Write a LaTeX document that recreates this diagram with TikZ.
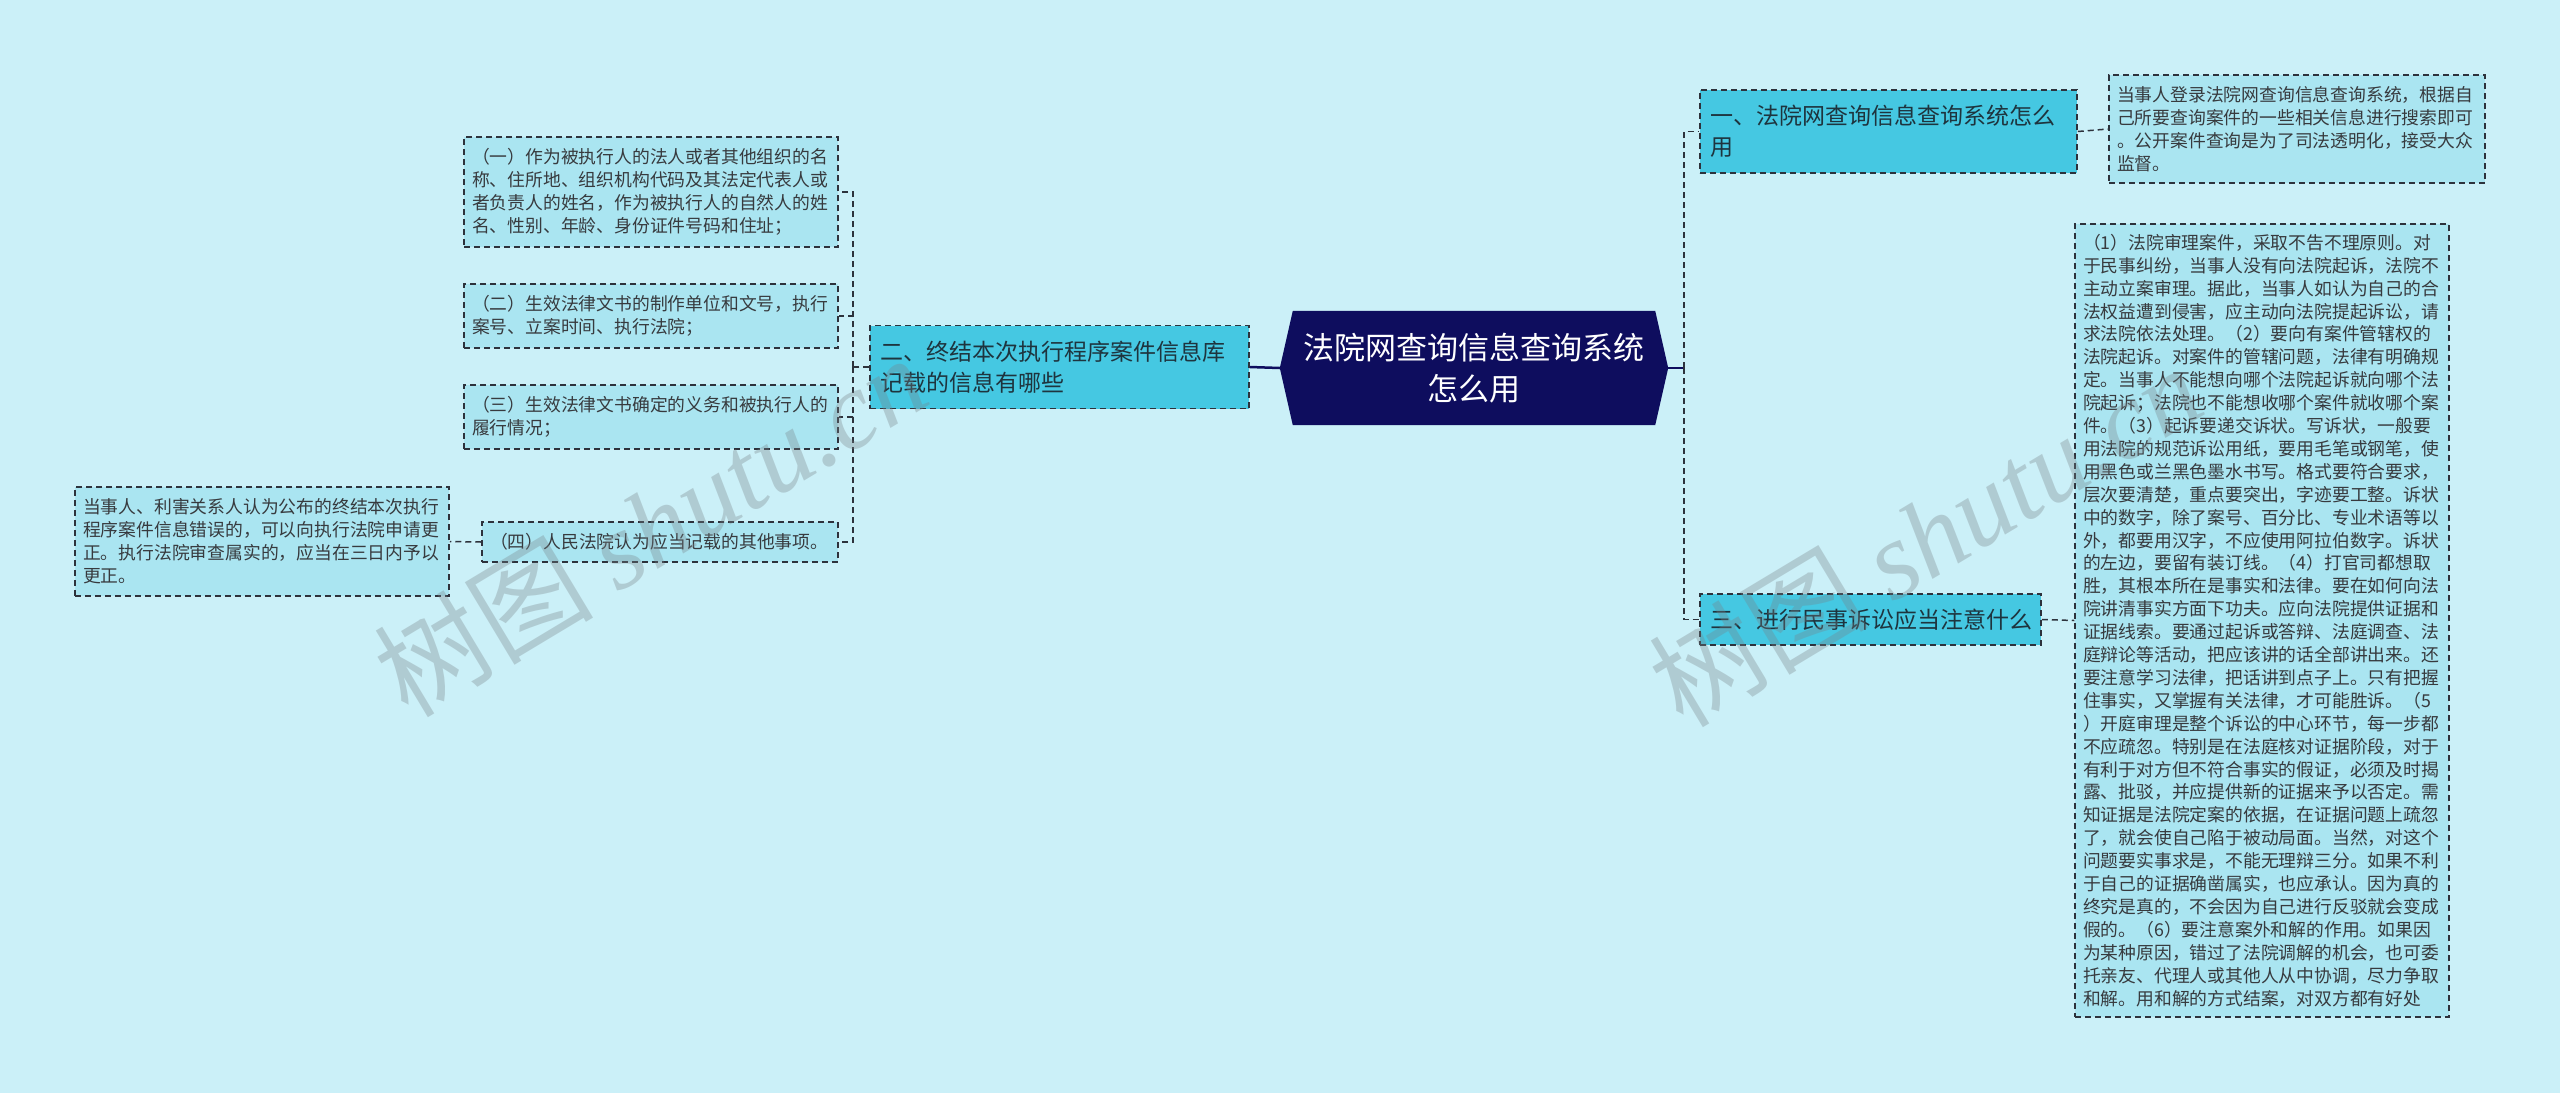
\documentclass[tikz,border=0pt]{standalone}
\usepackage{fontspec}
\setmainfont{Noto Sans CJK SC}
\newfontfamily\wmlatin{Liberation Serif}
\pgfdeclarelayer{bg}
\pgfsetlayers{bg,main}
\definecolor{bgc}{RGB}{203,240,248}
\definecolor{rootc}{RGB}{14,13,94}
\definecolor{brc}{RGB}{69,200,226}
\definecolor{leafc}{RGB}{170,229,241}
\definecolor{bordc}{RGB}{45,50,60}
\definecolor{brtext}{RGB}{30,52,62}
\definecolor{leaftext}{RGB}{55,58,62}
\definecolor{wmc}{RGB}{120,130,135}
\tikzset{
  boxline/.style={draw=bordc, dash pattern=on 6pt off 4pt, line width=1.5pt},
  leafbox/.style={boxline, fill=leafc, text=leaftext, font=\fontsize{17.8pt}{22.9pt}\selectfont, align=left, inner xsep=8pt, inner ysep=0pt, text width=358pt},
  branchbox/.style={boxline, fill=brc, text=brtext, font=\fontsize{23pt}{31pt}\selectfont, align=left, inner xsep=10pt, inner ysep=0pt},
  roottext/.style={text=white, font=\fontsize{31pt}{41pt}\selectfont, align=center, inner sep=0pt},
  conn/.style={draw=bordc, dash pattern=on 6pt off 4pt, line width=1.5pt},
  rootconn/.style={draw=rootc, line width=2.5pt},
  wm/.style={text=wmc, opacity=0.33, font=\fontsize{110pt}{110pt}\selectfont, inner sep=0pt}
}
\begin{document}
\begin{tikzpicture}[x=1pt,y=-1pt]
\begin{pgfonlayer}{bg}
\fill[bgc] (0,0) rectangle (2560,1093);
\end{pgfonlayer}
\useasboundingbox (0,0) rectangle (2560,1093);

% root
\node[roottext, minimum width=388pt, minimum height=114pt] (root) at (1474,368) {法院网查询信息查询系统\\怎么用};
\begin{pgfonlayer}{bg}
\fill[rootc] ([xshift=13pt]root.north west) -- ([xshift=-13pt]root.north east) -- (root.east) -- ([xshift=-13pt]root.south east) -- ([xshift=13pt]root.south west) -- (root.west) -- cycle;
\end{pgfonlayer}

% branches
\node[branchbox, text width=357pt, minimum height=83pt] (b1) at (1888.5,131.5) {一、法院网查询信息查询系统怎么\\用};
\node[branchbox, text width=359pt, minimum height=83pt] (b2) at (1059.5,367) {二、终结本次执行程序案件信息库\\记载的信息有哪些};
\node[branchbox, text width=321pt, minimum height=51pt] (b3) at (1870.5,619.5) {三、进行民事诉讼应当注意什么};

% left leaves
\node[leafbox, minimum height=110pt] (l1) at (651,192) {（一）作为被执行人的法人或者其他组织的名\\称、住所地、组织机构代码及其法定代表人或\\者负责人的姓名，作为被执行人的自然人的姓\\名、性别、年龄、身份证件号码和住址；};
\node[leafbox, minimum height=64pt] (l2) at (651,316) {（二）生效法律文书的制作单位和文号，执行\\案号、立案时间、执行法院；};
\node[leafbox, minimum height=64pt] (l3) at (651,417) {（三）生效法律文书确定的义务和被执行人的\\履行情况；};
\node[leafbox, text width=340pt, minimum height=40pt] (l4) at (660,542) {（四）人民法院认为应当记载的其他事项。};
\node[leafbox, minimum height=109pt] (s4) at (262,541.5) {当事人、利害关系人认为公布的终结本次执行\\程序案件信息错误的，可以向执行法院申请更\\正。执行法院审查属实的，应当在三日内予以\\更正。};

% right leaves
\node[leafbox, text width=360pt, minimum height=108pt] (r1) at (2297,129) {当事人登录法院网查询信息查询系统，根据自\\己所要查询案件的一些相关信息进行搜索即可\\。公开案件查询是为了司法透明化，接受大众\\监督。};
\node[leafbox, minimum height=793pt] (r3) at (2262,620.5) {（1）法院审理案件，采取不告不理原则。对\\于民事纠纷，当事人没有向法院起诉，法院不\\主动立案审理。据此，当事人如认为自己的合\\法权益遭到侵害，应主动向法院提起诉讼，请\\求法院依法处理。（2）要向有案件管辖权的\\法院起诉。对案件的管辖问题，法律有明确规\\定。当事人不能想向哪个法院起诉就向哪个法\\院起诉；法院也不能想收哪个案件就收哪个案\\件。（3）起诉要递交诉状。写诉状，一般要\\用法院的规范诉讼用纸，要用毛笔或钢笔，使\\用黑色或兰黑色墨水书写。格式要符合要求，\\层次要清楚，重点要突出，字迹要工整。诉状\\中的数字，除了案号、百分比、专业术语等以\\外，都要用汉字，不应使用阿拉伯数字。诉状\\的左边，要留有装订线。（4）打官司都想取\\胜，其根本所在是事实和法律。要在如何向法\\院讲清事实方面下功夫。应向法院提供证据和\\证据线索。要通过起诉或答辩、法庭调查、法\\庭辩论等活动，把应该讲的话全部讲出来。还\\要注意学习法律，把话讲到点子上。只有把握\\住事实，又掌握有关法律，才可能胜诉。（5\\）开庭审理是整个诉讼的中心环节，每一步都\\不应疏忽。特别是在法庭核对证据阶段，对于\\有利于对方但不符合事实的假证，必须及时揭\\露、批驳，并应提供新的证据来予以否定。需\\知证据是法院定案的依据，在证据问题上疏忽\\了，就会使自己陷于被动局面。当然，对这个\\问题要实事求是，不能无理辩三分。如果不利\\于自己的证据确凿属实，也应承认。因为真的\\终究是真的，不会因为自己进行反驳就会变成\\假的。（6）要注意案外和解的作用。如果因\\为某种原因，错过了法院调解的机会，也可委\\托亲友、代理人或其他人从中协调，尽力争取\\和解。用和解的方式结案，对双方都有好处};

% connectors
\coordinate (lj) at (853,367);
\coordinate (rj) at (1684,368);
\draw[rootconn] (root.west) -- (b2.east);
\draw[rootconn] (root.east) -- (rj);
\draw[conn] (rj) |- (b1.west);
\draw[conn] (rj) |- (b3.west);
\draw[conn] (b2.west) -- (lj);
\draw[conn] (lj) |- (l1.east);
\draw[conn] (lj) |- (l2.east);
\draw[conn] (lj) |- (l3.east);
\draw[conn] (lj) |- (l4.east);
\draw[conn] (l4.west) -- (s4.east);
\draw[conn] (b1.east) -- (r1.west);
\draw[conn] (b3.east) -- (r3.west);

% watermarks
\node[wm, rotate=31] (wm1) at (650,525) {树图 {\wmlatin\itshape shutu.cn}};
\node[wm, rotate=31] (wm2) at (1925,535) {树图 {\wmlatin\itshape shutu.cn}};
\end{tikzpicture}
\end{document}
